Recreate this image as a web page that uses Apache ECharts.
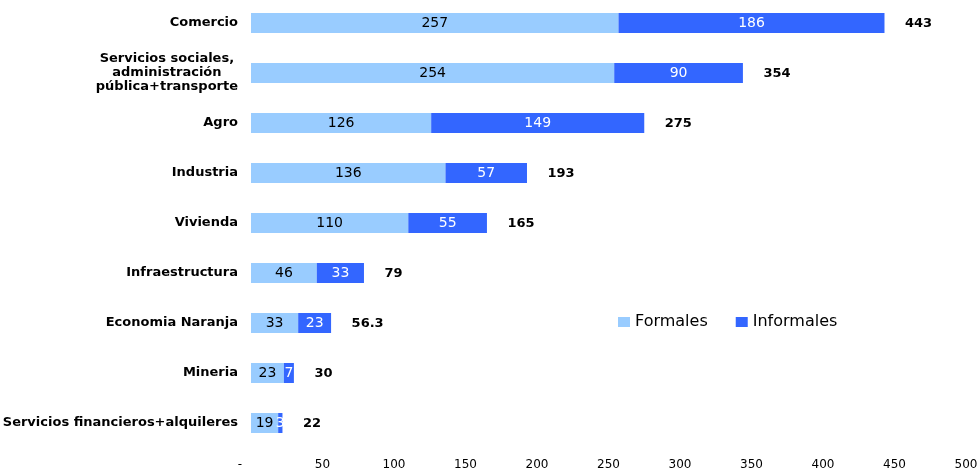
<!DOCTYPE html>
<html><head><meta charset="utf-8">
<script src="https://cdn.jsdelivr.net/npm/echarts@6/dist/echarts.min.js"></script>
<style>html,body{margin:0;padding:0;background:#fff}#c{width:979px;height:469px}</style>
</head><body><div id="c"></div>
<script>
const categories = ['Comercio', 'Servicios sociales,\nadministración\npública+transporte', 'Agro', 'Industria', 'Vivienda', 'Infraestructura', 'Economia Naranja', 'Mineria', 'Servicios financieros+alquileres'];
const formales = [257, 254, 126, 136, 110, 46, 33, 23, 19];
const informales = [186, 90, 149, 57, 55, 33, 23, 7, 3];
const totals = [443, 354, 275, 193, 165, 79, 56.3, 30, 22];
const xTicks = [0, 50, 100, 150, 200, 250, 300, 350, 400, 450, 500];

const cats = categories.slice().reverse();
const f = formales.slice().reverse();
const inf = informales.slice().reverse();
const tot = totals.slice().reverse();

const chart = echarts.init(document.getElementById('c'), null, {renderer: 'canvas'});
const font = 'DejaVu Sans, Verdana, sans-serif';
chart.setOption({
  animation: false,
  textStyle: {fontFamily: font},
  grid: {left: 251, right: 13, top: -2, bottom: 21, containLabel: false, outerBoundsMode: 'none'},
  legend: {
    data: ['Formales', 'Informales'], left: 618, top: 314, padding: 0, itemWidth: 12, itemHeight: 10, itemGap: 28,
    icon: 'rect', textStyle: {fontSize: 16, color: '#000', fontFamily: font}
  },
  xAxis: {
    type: 'value', min: xTicks[0], max: xTicks[xTicks.length - 1], interval: xTicks[1] - xTicks[0],
    axisLine: {show: false}, axisTick: {show: false}, splitLine: {show: false},
    axisLabel: {
      margin: 11, fontSize: 12, color: '#000', fontFamily: font,
      formatter: v => v === 0 ? '{z|-}' : String(v),
      rich: {z: {fontSize: 12, color: '#000', fontFamily: font, padding: [0, 22, 0, 0]}}
    }
  },
  yAxis: {
    type: 'category', data: cats,
    axisLine: {show: false}, axisTick: {show: false},
    axisLabel: {
      margin: 13, fontSize: 13, fontWeight: 'bold', color: '#000', fontFamily: font, lineHeight: 14,
      formatter: v => v.split('\n').map(s => '{a|' + s + '}').join('\n'),
      rich: {a: {fontSize: 13, fontWeight: 'bold', color: '#000', align: 'center', lineHeight: 14, fontFamily: font}}
    }
  },
  series: [
    {name: 'Formales', type: 'bar', stack: 's', data: f, barWidth: 20,
     itemStyle: {color: '#99CCFF'},
     label: {show: true, position: 'inside', color: '#000', fontSize: 14, fontFamily: font}},
    {name: 'Informales', type: 'bar', stack: 's', data: inf, barWidth: 20,
     itemStyle: {color: '#3366FF'},
     label: {show: true, position: 'inside', color: '#fff', fontSize: 14, fontFamily: font}},
    {name: 'Total', type: 'scatter', data: cats.map((c, i) => [f[i] + inf[i], c]),
     symbolSize: 1, itemStyle: {color: 'rgba(0,0,0,0)', opacity: 1},
     label: {show: true, position: 'right', distance: 20, offset: [0, 1], color: '#000', fontWeight: 'bold', fontSize: 13, fontFamily: font,
       formatter: p => String(tot[p.dataIndex])}}
  ]
});
</script></body></html>
